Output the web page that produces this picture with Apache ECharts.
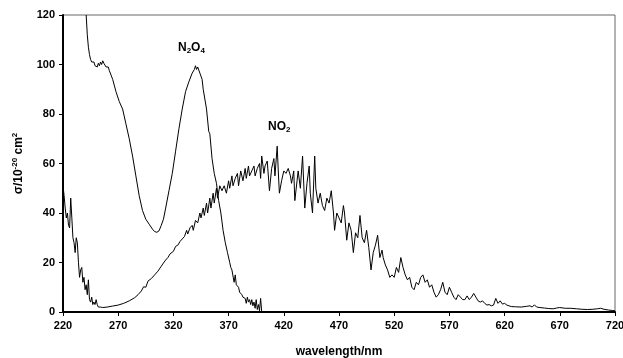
<!DOCTYPE html>
<html>
<head>
<meta charset="utf-8">
<script src="https://cdn.jsdelivr.net/npm/echarts@6/dist/echarts.min.js"></script>
<style>
  html, body { margin: 0; padding: 0; background: #fff; }
  #chart { width: 623px; height: 358px; }
</style>
</head>
<body>
<div id="chart"></div>
<script>
// wavelength (nm) ticks
const xTicks = [220, 270, 320, 370, 420, 470, 520, 570, 620, 670, 720];
const yTicks = [0, 20, 40, 60, 80, 100, 120];

// N2O4 cross section [wavelength, sigma]
const n2o4 = [
  [241, 120], [242, 112], [243, 107], [244, 104], [245, 102], [246, 101], [247, 100.5],
  [248, 101], [249, 99.5], [250, 100], [251, 99], [252, 100.5], [253, 99.5], [254, 101],
  [255, 100], [256, 101.5], [257, 100.5], [258, 100], [259, 99], [260, 98.5], [261, 99],
  [262, 97.5], [263, 97], [265, 94], [268, 89], [271, 85], [274, 82], [277, 76], [280, 70],
  [283, 63], [286, 55], [289, 47], [292, 41], [295, 37.5], [298, 35.5], [301, 33.5],
  [303, 32.5], [305, 32.2], [307, 32.8], [309, 35], [311, 37.5], [313, 42], [316, 49],
  [319, 56], [322, 65], [325, 74], [328, 82], [331, 89], [334, 93], [337, 96.5], [339, 98],
  [340, 99.5], [341, 98], [342, 99], [344, 96.5], [346, 94], [347, 90], [348, 90.5],
  [350, 82], [352, 73], [353, 72], [355, 62], [357, 56], [359, 52], [361, 45], [363, 40],
  [365, 33], [367, 28], [369, 24], [371, 20], [372, 18], [373, 17], [375, 12], [376, 15],
  [377, 11], [379, 10], [380, 8], [382, 7], [383, 6], [385, 5.5], [386, 3.5], [387, 6],
  [388, 4], [389, 5], [390, 3], [391, 5], [392, 2.5], [393, 4], [394, 1.5], [395, 5],
  [396, 1], [397, 3], [398, 0.5], [399, 5.5], [400, 0]
];

// NO2 cross section [wavelength, sigma]
const no2 = [
  [220, 51], [221, 47], [222, 42], [223, 38], [224, 40], [225, 35], [226, 34], [227, 46],
  [228, 38], [229, 30], [230, 28], [231, 24], [232, 30], [233, 28], [234, 20], [235, 14],
  [236, 17], [237, 18], [238, 12], [239, 14], [240, 9], [241, 11], [242, 7], [243, 13],
  [244, 5], [245, 4], [246, 6], [247, 3], [248, 4], [249, 3], [250, 5], [251, 3], [252, 2],
  [254, 2], [256, 1.8], [260, 2], [265, 2.4], [270, 2.8], [275, 3.5], [280, 4.5],
  [285, 5.8], [288, 7], [291, 8.5], [293, 10.2], [295, 10], [297, 12.5], [300, 13.5],
  [303, 15], [306, 16.5], [309, 18.5], [311, 19.8], [313, 21], [315, 22], [317, 23.5],
  [320, 24.5], [322, 26.5], [324, 27], [326, 28.5], [328, 29.5], [330, 30.5], [332, 33],
  [333, 31.5], [335, 34], [337, 35], [338, 33], [340, 37], [342, 36], [344, 40], [345, 38],
  [347, 42], [348, 39], [350, 44], [351, 40], [353, 46], [354, 42], [356, 48], [357, 44],
  [359, 50], [360, 46], [362, 51], [364, 49], [366, 51], [368, 48], [370, 53], [371, 50],
  [373, 55], [374, 51], [376, 54], [378, 56], [379, 51], [381, 57], [383, 53], [385, 58],
  [386, 54], [388, 59], [389, 55], [391, 57], [393, 59], [394, 55], [396, 58], [398, 60],
  [399, 54], [400, 63], [402, 56], [403, 59], [405, 61], [407, 49], [409, 58], [411, 62],
  [412, 55], [414, 67], [415, 57], [416, 48], [418, 53], [420, 57], [422, 56], [424, 58],
  [426, 55], [427, 52], [429, 57], [430, 45], [432, 53], [433, 57], [435, 50], [437, 63],
  [439, 42], [441, 52], [443, 59], [444, 48], [446, 40], [448, 63], [449, 50], [451, 44],
  [453, 48], [455, 43], [457, 41], [459, 46], [461, 44], [463, 49], [465, 40], [466, 33],
  [468, 40], [470, 38], [472, 36], [474, 43], [475, 40], [477, 29], [479, 36], [481, 33],
  [483, 24], [485, 32], [487, 30], [489, 39], [491, 30], [493, 28], [495, 33], [497, 26],
  [499, 17], [501, 24], [503, 27], [505, 31], [507, 22], [509, 25], [510, 22], [512, 19],
  [514, 17], [516, 14], [518, 15], [520, 14], [522, 18], [524, 16], [526, 22], [528, 18],
  [530, 15], [532, 13], [534, 14], [536, 10], [538, 9], [540, 12], [542, 11], [544, 14],
  [546, 15], [548, 12], [550, 13], [552, 10], [554, 11], [556, 8], [558, 6], [560, 7],
  [562, 9], [564, 12], [566, 8], [568, 7], [570, 10], [572, 8], [574, 6], [576, 5],
  [578, 7], [580, 6], [582, 5], [584, 5], [586, 6.5], [588, 5], [590, 6], [592, 7.5],
  [594, 6], [596, 4.5], [598, 4], [600, 4.5], [602, 3.5], [604, 2.8], [606, 3], [608, 2.5],
  [610, 2.8], [612, 5.5], [614, 3.5], [616, 4.5], [618, 3.2], [620, 3.5], [622, 2.8],
  [624, 2.5], [626, 2.2], [630, 2.1], [635, 2], [640, 2.3], [643, 2.5], [645, 2], [647, 2.9],
  [649, 2], [652, 1.8], [656, 1.6], [660, 1.4], [664, 1.3], [667, 1.6], [670, 1.8],
  [675, 1.5], [680, 1.5], [685, 1.3], [690, 1.1], [695, 1.0], [700, 1.1], [704, 1.3],
  [707, 1.5], [710, 1.1], [714, 0.8], [718, 0.6], [720, 0.5]
];

const FONT = '"Liberation Sans", Arial, sans-serif';

const myChart = echarts.init(document.getElementById('chart'));

const option = {
  animation: false,
  grid: {
    left: 63,
    right: 8,
    top: 15,
    bottom: 46,
    outerBoundsMode: 'none',
    containLabel: false,
    show: true,
    borderColor: '#666',
    borderWidth: 1,
  },
  xAxis: {
    type: 'value',
    min: xTicks[0],
    max: xTicks[xTicks.length - 1],
    interval: 50,
    name: 'wavelength/nm',
    nameLocation: 'middle',
    nameGap: 34,
    nameTextStyle: { fontFamily: FONT, fontWeight: 'bold', fontSize: 12, color: '#000' },
    axisLine: { show: true, lineStyle: { color: '#000', width: 2 } },
    axisTick: { show: true, length: 4, lineStyle: { color: '#000', width: 1 } },
    axisLabel: { fontFamily: FONT, fontWeight: 'bold', fontSize: 11, color: '#000', margin: 8 },
    splitLine: { show: false },
  },
  yAxis: {
    type: 'value',
    min: yTicks[0],
    max: yTicks[yTicks.length - 1],
    interval: 20,
    name: 'σ/10{sup|-20} cm{sup|2}',
    nameLocation: 'middle',
    nameGap: 36,
    nameRotate: 90,
    nameTextStyle: {
      fontFamily: FONT,
      fontWeight: 'bold',
      fontSize: 12,
      color: '#000',
      rich: {
        sup: { fontFamily: FONT, fontWeight: 'bold', fontSize: 8, color: '#000', verticalAlign: 'bottom', padding: [0, 0, 8, 0] },
      },
    },
    axisLine: { show: true, lineStyle: { color: '#000', width: 2 } },
    axisTick: { show: true, length: 4, lineStyle: { color: '#000', width: 1 } },
    axisLabel: { fontFamily: FONT, fontWeight: 'bold', fontSize: 11, color: '#000', margin: 8 },
    splitLine: { show: false },
  },
  series: [
    {
      name: 'N2O4',
      type: 'line',
      data: n2o4,
      showSymbol: false,
      clip: true,
      lineStyle: { color: '#000', width: 1 },
    },
    {
      name: 'NO2',
      type: 'line',
      data: no2,
      showSymbol: false,
      clip: true,
      lineStyle: { color: '#000', width: 1 },
    },
  ],
  graphic: [
    {
      type: 'text',
      left: 178,
      top: 42,
      style: {
        text: 'N{sub|2}O{sub|4}',
        font: 'bold 12px ' + FONT,
        fill: '#000',
        rich: {
          sub: { fontFamily: FONT, fontWeight: 'bold', fontSize: 8, fill: '#000', verticalAlign: 'top', padding: [6, 0, 0, 0] },
        },
      },
    },
    {
      type: 'text',
      left: 268,
      top: 121,
      style: {
        text: 'NO{sub|2}',
        font: 'bold 12px ' + FONT,
        fill: '#000',
        rich: {
          sub: { fontFamily: FONT, fontWeight: 'bold', fontSize: 8, fill: '#000', verticalAlign: 'top', padding: [6, 0, 0, 0] },
        },
      },
    },
  ],
};

myChart.setOption(option, true);
</script>
</body>
</html>
